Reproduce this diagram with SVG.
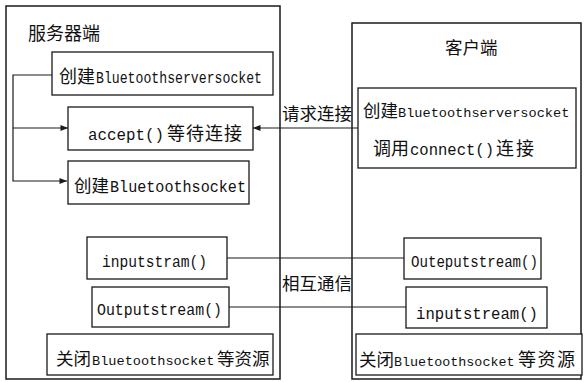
<svg xmlns="http://www.w3.org/2000/svg" width="584" height="382" viewBox="0 0 584 382">
<style>
svg{font-size:17px}
.o{fill:none;stroke:#1a1a1a;stroke-width:1.5}
.b{fill:#fff;stroke:#1a1a1a;stroke-width:1.3}
.c{fill:none;stroke:#1a1a1a;stroke-width:1.2}
text{font-family:"Noto Sans CJK SC",sans-serif;fill:#111}
.m{font-family:"Liberation Mono","Noto Sans CJK SC",monospace;font-size:16.5px}
</style>
<defs>
<marker id="ah" viewBox="0 0 10 8" refX="10" refY="4" markerWidth="8" markerHeight="6" markerUnits="userSpaceOnUse" orient="auto"><path d="M0,0 L10,4 L0,8 z" fill="#1a1a1a"/></marker>
</defs>
<rect x="0" y="0" width="584" height="382" fill="#fff"/>
<g id="server">
<rect class="o" x="6" y="6" width="274" height="373"/>
<text x="28" y="40" font-size="18">服务器端</text>
</g>
<g id="client">
<rect class="o" x="352" y="23" width="229" height="356"/>
<text x="445" y="54" font-size="17.5">客户端</text>
</g>
<g id="connectors">
<path class="c" d="M52,75 H13 V181 H67" marker-end="url(#ah)"/>
<path class="c" d="M13,128 H68" marker-end="url(#ah)"/>
<path class="c" d="M358,128 H253" marker-end="url(#ah)"/>
<path class="c" d="M227,258 H404"/>
<path class="c" d="M229,307 H406"/>
<text x="282" y="120" font-size="17.5">请求连接</text>
<text x="282" y="290" font-size="17.5">相互通信</text>
</g>
<g id="s-create-server">
<rect class="b" x="52" y="52" width="221" height="43"/>
<text y="83"><tspan x="59" font-size="18">创建</tspan><tspan class="m" x="96" textLength="166" lengthAdjust="spacingAndGlyphs">Bluetoothserversocket</tspan></text>
</g>
<g id="s-accept">
<rect class="b" x="68" y="107" width="185" height="43"/>
<text y="140"><tspan class="m" x="88" textLength="76" lengthAdjust="spacingAndGlyphs">accept()</tspan><tspan x="167" font-size="18" letter-spacing="1">等待连接</tspan></text>
</g>
<g id="s-create-socket">
<rect class="b" x="68" y="161" width="181" height="43"/>
<text y="192"><tspan x="74" font-size="17.5">创建</tspan><tspan class="m" x="110" textLength="136" lengthAdjust="spacingAndGlyphs">Bluetoothsocket</tspan></text>
</g>
<g id="s-input">
<rect class="b" x="87" y="237" width="140" height="42"/>
<text class="m" x="102" y="267" textLength="105" lengthAdjust="spacingAndGlyphs">inputstram()</text>
</g>
<g id="s-output">
<rect class="b" x="92" y="287" width="137" height="40"/>
<text class="m" x="97" y="315" textLength="125" lengthAdjust="spacingAndGlyphs">Outputstream()</text>
</g>
<g id="s-close">
<rect class="b" x="47" y="334" width="226" height="41"/>
<text y="365"><tspan x="56" font-size="17.5">关闭</tspan><tspan class="m" x="92" style="font-size:13.6px">Bluetoothsocket</tspan><tspan x="217" font-size="17.5">等资源</tspan></text>
</g>
<g id="c-connect">
<rect class="b" x="358" y="88" width="218" height="80"/>
<text y="117"><tspan x="363" font-size="17.5">创建</tspan><tspan class="m" x="398" style="font-size:13.6px">Bluetoothserversocket</tspan></text>
<text y="155"><tspan x="373" font-size="18">调用</tspan><tspan class="m" x="410" textLength="84" lengthAdjust="spacingAndGlyphs">connect()</tspan><tspan x="496" font-size="18" letter-spacing="2">连接</tspan></text>
</g>
<g id="c-output">
<rect class="b" x="404" y="238" width="137" height="41"/>
<text class="m" x="411" y="267" textLength="127" lengthAdjust="spacingAndGlyphs">Outeputstream()</text>
</g>
<g id="c-input">
<rect class="b" x="406" y="287" width="141" height="41"/>
<text class="m" x="416" y="319" textLength="122" lengthAdjust="spacingAndGlyphs">inputstream()</text>
</g>
<g id="c-close">
<rect class="b" x="356" y="334" width="226" height="41"/>
<text y="366"><tspan x="359" font-size="17.5">关闭</tspan><tspan class="m" x="394" style="font-size:13.4px">Bluetoothsocket</tspan><tspan x="518" font-size="18" letter-spacing="1.5">等资源</tspan></text>
</g>
</svg>
